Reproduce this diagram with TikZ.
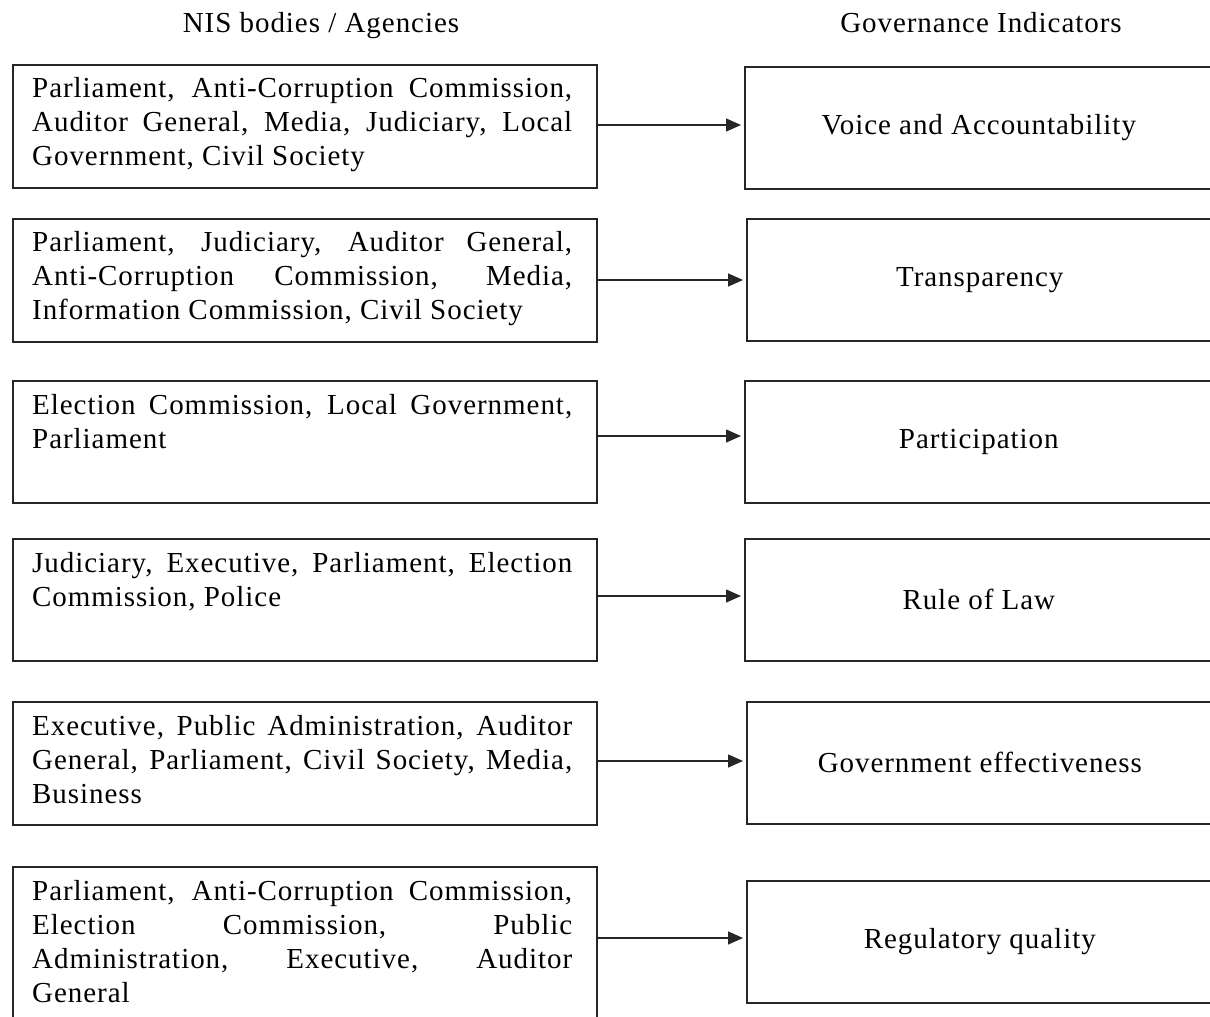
\documentclass[tikz,border=0pt]{standalone}
\usepackage{fontspec}
\setmainfont{Liberation Serif}[LetterSpace=3.3]
\usetikzlibrary{arrows.meta}
\newcommand\jline[1]{\hbox to 540pt{#1}}
\begin{document}
\begin{tikzpicture}[x=1pt,y=-1pt,
  txt/.style={font=\fontsize{29pt}{34pt}\selectfont, text=black},
  lbox/.style={draw=black!85, line width=1.6pt, minimum width=584pt, minimum height=123pt, inner sep=0pt, anchor=north west},
  rbox/.style={draw=black!85, line width=1.6pt, minimum width=468pt, minimum height=122pt, inner sep=0pt, anchor=north west, txt},
  ltext/.style={txt, anchor=north west, align=left, inner sep=0pt},
  arr/.style={draw=black!85, line width=1.4pt, -{Triangle[length=15pt,width=13pt]}, shorten >=3pt},
  head/.style={txt, anchor=base, inner sep=0pt}]
\useasboundingbox (0,0) rectangle (1210,1017);
\clip (0,0) rectangle (1210,1017);
\fill[white] (0,0) rectangle (1210,1017);

\node[head] (H1) at (321,32) {NIS bodies / Agencies};
\node[head] (H2) at (981,32) {Governance Indicators};

% left boxes
\node[lbox] (L1) at (12,64) {};
\node[lbox] (L2) at (12,218) {};
\node[lbox, minimum height=122pt] (L3) at (12,380) {};
\node[lbox, minimum height=122pt] (L4) at (12,538) {};
\node[lbox] (L5) at (12,701) {};
\node[lbox, minimum height=170pt] (L6) at (12,866) {};

\node[ltext] (T1) at (32,77.5) {\jline{Parliament, Anti-Corruption Commission,}\\\jline{Auditor General, Media, Judiciary, Local}\\Government, Civil Society};
\node[ltext] (T2) at (32,231.5) {\jline{Parliament, Judiciary, Auditor General,}\\\jline{Anti-Corruption Commission, Media,}\\Information Commission, Civil Society};
\node[ltext] (T3) at (32,394) {\jline{Election Commission, Local Government,}\\Parliament};
\node[ltext] (T4) at (32,552) {\jline{Judiciary, Executive, Parliament, Election}\\Commission, Police};
\node[ltext] (T5) at (32,715) {\jline{Executive, Public Administration, Auditor}\\\jline{General, Parliament, Civil Society, Media,}\\Business};
\node[ltext] (T6) at (32,880) {\jline{Parliament, Anti-Corruption Commission,}\\\jline{Election Commission, Public}\\\jline{Administration, Executive, Auditor}\\General};

% right boxes
\node[rbox] (R1) at (744,66) {Voice and Accountability};
\node[rbox, minimum width=466pt] (R2) at (746,218) {Transparency};
\node[rbox] (R3) at (744,380) {Participation};
\node[rbox] (R4) at (744,538) {Rule of Law};
\node[rbox, minimum width=466pt] (R5) at (746,701) {Government effectiveness};
\node[rbox, minimum width=466pt] (R6) at (746,880) {Regulatory quality};

% arrows
\draw[arr] (L1.east |- 0,125) -- (R1.west |- 0,125);
\draw[arr] (L2.east |- 0,280) -- (R2.west |- 0,280);
\draw[arr] (L3.east |- 0,436) -- (R3.west |- 0,436);
\draw[arr] (L4.east |- 0,596) -- (R4.west |- 0,596);
\draw[arr] (L5.east |- 0,761) -- (R5.west |- 0,761);
\draw[arr] (L6.east |- 0,938) -- (R6.west |- 0,938);
\end{tikzpicture}
\end{document}
